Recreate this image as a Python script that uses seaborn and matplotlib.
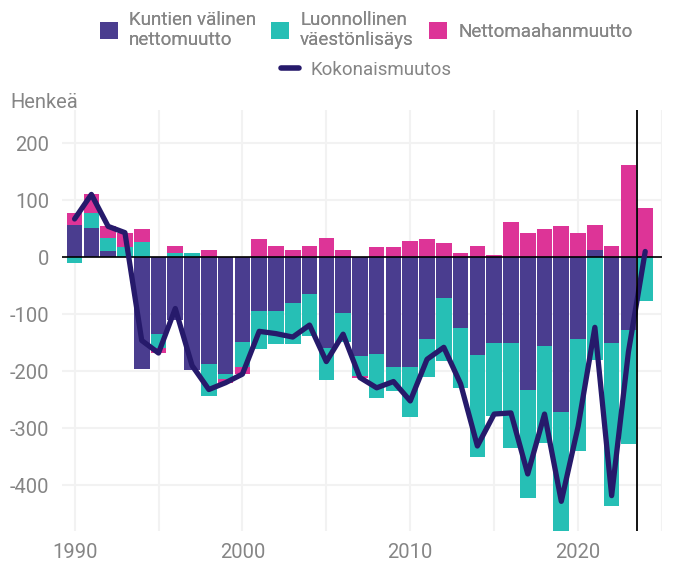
import numpy as np
import pandas as pd
import matplotlib
matplotlib.use("Agg")
import matplotlib.pyplot as plt
import seaborn as sns
from matplotlib.patches import Patch
from matplotlib.lines import Line2D

# Data (persons per year)
years = list(range(1990, 2025))
kunta = [57, 52, 10, 1, -196, -134, -110, -198, -187, -204,
         -148, -95, -95, -81, -64, -160, -97, -174, -169, -193,
         -193, -143, -72, -125, -172, -150, -150, -233, -155, -271,
         -143, 12, -150, -127, 0]
luonnollinen = [-10, 25, 23, 16, 27, -26, 7, 8, -57, -10,
                -45, -66, -58, -72, -75, -56, -51, -34, -77, -42,
                -88, -67, -110, -105, -179, -128, -185, -190, -170, -211,
                -197, -180, -287, -200, -77]
netto = [20, 33, 21, 26, 23, -8, 13, 0, 12, -6,
         -12, 31, 19, 13, 20, 33, 13, -3, 17, 17,
         29, 31, 24, 8, 20, 3, 62, 43, 50, 54,
         43, 45, 19, 161, 87]

labels = ["Kuntien välinen\nnettomuutto", "Luonnollinen\nväestönlisäys", "Nettomaahanmuutto"]
colors = ["#4a3d8f", "#26bfb5", "#dd3497"]
line_color = "#261a6b"

df = pd.DataFrame({"vuosi": years, "kunta": kunta,
                   "luonnollinen": luonnollinen, "netto": netto})
df["yhteensa"] = df["kunta"] + df["luonnollinen"] + df["netto"]

sns.set_theme(style="white")
plt.rcParams['font.family'] = ['Roboto', 'DejaVu Sans']
gray = "#858585"

fig = plt.figure(figsize=(6.74, 5.61), dpi=100)
ax = fig.add_axes([62/674, 1 - 531/561, 600/674, 421/561])

# diverging stacked bars
pos_base = np.zeros(len(df))
neg_base = np.zeros(len(df))
for col, c in zip(["kunta", "luonnollinen", "netto"], colors):
    v = df[col].to_numpy(dtype=float)
    bottom = np.where(v >= 0, pos_base, neg_base)
    ax.bar(df["vuosi"], v, bottom=bottom, width=0.93, color=c,
           linewidth=0, zorder=2)
    pos_base = pos_base + np.clip(v, 0, None)
    neg_base = neg_base + np.clip(v, None, 0)

sns.lineplot(data=df, x="vuosi", y="yhteensa", ax=ax, color=line_color,
             linewidth=3.8, zorder=4, legend=False)

ax.axhline(0, color="black", linewidth=1.2, zorder=3)
ax.axvline(2023.5, color="black", linewidth=1.3, zorder=5)

ax.set_xlim(1989.25, 2025)
ax.set_ylim(-480, 258)
ax.set_yticks([-400, -300, -200, -100, 0, 100, 200])
ax.set_yticklabels(["-400", "-300", "-200", "-100", "0", "100", "200"])
ax.set_xticks([1990, 2000, 2010, 2020])
ax.set_xticks(range(1990, 2026, 5), minor=True)
ax.grid(True, which="both", axis="x", color="#f2f2f2", linewidth=1.5, zorder=0)
ax.grid(True, which="major", axis="y", color="#f2f2f2", linewidth=1.5, zorder=0)
ax.set_axisbelow(True)
for s in ax.spines.values():
    s.set_visible(False)
ax.tick_params(axis="both", which="both", length=0, labelsize=14.5, colors=gray, pad=9)
ax.set_xlabel("")
ax.set_ylabel("")

fig.text(10/674, 1 - 103/561, "Henkeä", fontsize=14.5, color=gray, va="center", ha="left")

prop = {"size": 13.5}
handles = [Patch(facecolor=c, edgecolor="none") for c in colors]
leg1 = fig.legend(handles, labels, loc="center", bbox_to_anchor=(366/674, 1 - 30/561),
                  ncol=3, frameon=False, prop=prop, handlelength=0.96, handleheight=0.95,
                  columnspacing=0.8, handletextpad=0.6, labelcolor=gray)
leg2 = fig.legend([Line2D([0], [0], color=line_color, linewidth=4)], ["Kokonaismuutos"],
                  loc="center", bbox_to_anchor=(366/674, 1 - 70/561), frameon=False,
                  prop=prop, handlelength=0.96, handletextpad=0.6, labelcolor=gray)
fig.add_artist(leg1)

fig.savefig("out.png", dpi=100)
